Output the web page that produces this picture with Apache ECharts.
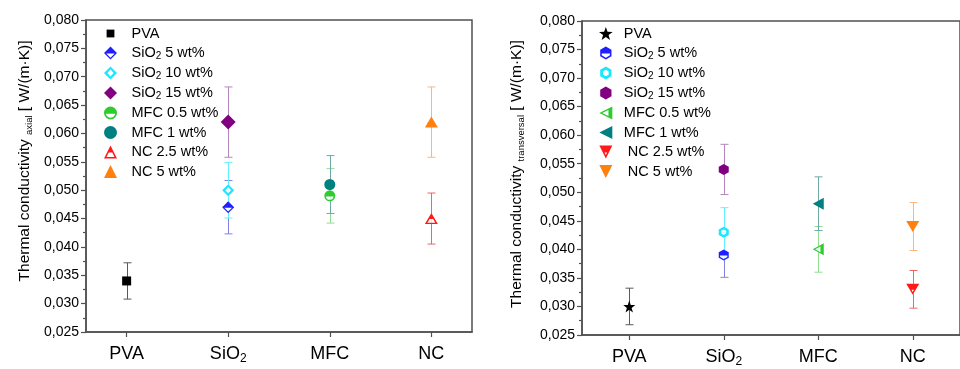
<!DOCTYPE html>
<html><head><meta charset="utf-8">
<script src="https://cdn.jsdelivr.net/npm/echarts@6/dist/echarts.min.js"></script>
<style>html,body{margin:0;padding:0;background:#fff}#c{width:960px;height:369px}</style>
</head><body><div id="c"></div>
<script>
// ---------------- data ----------------
const categories = ['PVA', 'SiO2', 'MFC', 'NC'];
const categoryPositions = [1, 2, 3, 4];
const seriesNames = ['PVA', 'SiO2 5 wt%', 'SiO2 10 wt%', 'SiO2 15 wt%', 'MFC 0.5 wt%', 'MFC 1 wt%', 'NC 2.5 wt%', 'NC 5 wt%'];
const seriesCategory = [1, 2, 2, 2, 3, 3, 4, 4];
const axialValues = [0.034, 0.047, 0.050, 0.062, 0.049, 0.051, 0.045, 0.062];
const axialErrors = [0.0032, 0.0047, 0.0049, 0.0062, 0.0048, 0.0051, 0.0045, 0.0062];
const transValues = [0.030, 0.039, 0.043, 0.054, 0.040, 0.048, 0.033, 0.044];
const transErrors = [0.0032, 0.0039, 0.0043, 0.0044, 0.0040, 0.0047, 0.0033, 0.0042];
const yTickLabels = ['0,025', '0,030', '0,035', '0,040', '0,045', '0,050', '0,055', '0,060', '0,065', '0,070', '0,075', '0,080'];

// ---------------- style ----------------
const FONT = 'Liberation Sans, Arial, Helvetica, sans-serif';
const colors = ['#000000', '#1f1fff', '#19e6ff', '#800080', '#2ecc2e', '#008080', '#ff1a1a', '#ff7f0f'];
const errColors = ['#5a5a5a', '#8282e0', '#66f0ff', '#b586bb', '#8fde8f', '#70a8a8', '#ee6666', '#ffb478'];
const leftShapes = ['square', 'diamondHalf', 'diamondHollow', 'diamond', 'circleHalf', 'circle', 'triUpHalf', 'triUp'];
const rightShapes = ['star', 'hexHalf', 'hexHollow', 'hex', 'triLeftHalf', 'triLeft', 'triDownHalf', 'triDown'];
const leftSizes = [[9, 9], [12, 12], [12, 12], [15, 15], [11, 11], [11, 11], [13, 11], [13, 11]];
const rightSizes = [[12, 12], [10, 11], [10, 11], [10, 11], [11, 12], [11, 12], [13, 11], [13, 11]];

const FULL = {
  square: 'M0 0 L100 0 L100 100 L0 100 Z',
  diamond: 'M50 0 L100 50 L50 100 L0 50 Z',
  circle: 'M0 50 A50 50 0 1 1 100 50 A50 50 0 1 1 0 50 Z',
  triUp: 'M50 0 L100 100 L0 100 Z',
  star: 'M50 0 L61.76 33.82 L97.55 34.55 L69.02 56.18 L79.39 90.45 L50 70 L20.61 90.45 L30.98 56.18 L2.45 34.55 L38.24 33.82 Z',
  hex: 'M50 0 L93.3 25 L93.3 75 L50 100 L6.7 75 L6.7 25 Z',
  triLeft: 'M0 50 L100 0 L100 100 Z',
  triDown: 'M0 0 L100 0 L50 100 Z'
};
const HOLES = {
  diamondHalf: ['diamond', 'M18 54 L50 86 L82 54 Z'],
  diamondHollow: ['diamond', 'M50 24 L26 50 L50 76 L74 50 Z'],
  circleHalf: ['circle', 'M14.5 56 A36 36 0 0 0 85.5 56 Z'],
  triUpHalf: ['triUp', 'M36.4 54 L19.4 88 L80.6 88 L63.6 54 Z'],
  hexHalf: ['hex', 'M18.7 54 L18.7 68 L50 86.1 L81.3 68 L81.3 54 Z'],
  hexHollow: ['hex', 'M50 25 L28.35 37.5 L28.35 62.5 L50 75 L71.65 62.5 L71.65 37.5 Z'],
  triLeftHalf: ['triLeft', 'M22.4 50 L70 73.8 L70 26.2 Z'],
  triDownHalf: ['triDown', 'M40.4 54 L50 73.2 L59.6 54 Z']
};
function shapePath(s) {
  if (HOLES[s]) return FULL[HOLES[s][0]] + ' ' + HOLES[s][1];
  return FULL[s];
}
function basePath(s) { return HOLES[s] ? FULL[HOLES[s][0]] : FULL[s]; }

function richLabel(name) {
  if (name.indexOf('SiO2') === 0) {
    const rest = name.slice(4);
    return '{t|SiO}{s|2}' + (rest ? '{t|' + rest + '}' : '');
  }
  return '{t|' + name + '}';
}

function legendFor(prefix, shapes, left, top, iw) {
  return {
    orient: 'vertical', left: left, top: top, padding: 0, itemWidth: iw, itemHeight: 13, itemGap: 4.5,
    selectedMode: false,
    data: seriesNames.map((n, i) => ({
      name: prefix + n,
      icon: 'path://' + (shapes[i] === 'square' ? 'M0 0 M100 100 M20 20 L80 20 L80 80 L20 80 Z' : shapePath(shapes[i]))
    })),
    formatter: function (name) {
      let n = name.slice(2);
      if (prefix === 'T:' && n.indexOf('NC') === 0) n = ' ' + n;
      return richLabel(n);
    },
    textStyle: {
      color: '#000', fontFamily: FONT, fontSize: 14.5, padding: [0, 0, 0, 2],
      rich: {
        t: { fontSize: 14.5, lineHeight: 16, fontFamily: FONT, color: '#000' },
        s: { fontSize: 10, lineHeight: 10, verticalAlign: 'bottom', fontFamily: FONT, color: '#000' }
      }
    }
  };
}

function makeX(grid, min, max) {
  return {
    type: 'value', gridIndex: grid, min: min, max: max,
    splitLine: { show: false },
    axisLine: { show: true, lineStyle: { color: '#505050', width: 1.5 } },
    axisTick: { show: true, customValues: categoryPositions, length: 5, lineStyle: { color: '#505050', width: 1.2 } },
    axisLabel: {
      customValues: categoryPositions, margin: 11, color: '#000', fontFamily: FONT, fontSize: 18,
      formatter: function (v) { return richLabel(categories[Math.round(v) - 1]); },
      rich: {
        t: { fontSize: 18, lineHeight: 22, fontFamily: FONT, color: '#000' },
        s: { fontSize: 12, lineHeight: 12, verticalAlign: 'bottom', fontFamily: FONT, color: '#000' }
      }
    }
  };
}
function makeY(grid, sub, gap, shift) {
  return {
    type: 'value', gridIndex: grid, min: 0.025, max: 0.08, interval: 0.005,
    splitLine: { show: false },
    axisLine: { show: true, lineStyle: { color: '#505050', width: 1.5 } },
    axisTick: { show: true, length: 5, lineStyle: { color: '#505050', width: 1.2 } },
    minorTick: { show: true, splitNumber: 2, length: 3, lineStyle: { color: '#505050', width: 1.2 } },
    axisLabel: {
      margin: 7, color: '#000', fontFamily: FONT, fontSize: 14,
      formatter: function (v) { return yTickLabels[Math.round((v - 0.025) / 0.005)]; }
    },
    name: '{t|Thermal conductivity }{s|' + sub + '}{t| [ W/(m·K)]}',
    nameLocation: 'middle', nameRotate: 90, nameGap: gap,
    nameTextStyle: {
      color: '#000', fontFamily: FONT, fontSize: 15.5, padding: [0, 0, 0, shift],
      rich: {
        t: { fontSize: 15.5, lineHeight: 18, fontFamily: FONT, color: '#000' },
        s: { fontSize: 9.5, lineHeight: 9, verticalAlign: 'bottom', fontFamily: FONT, color: '#000' }
      }
    }
  };
}

function seriesFor(prefix, grid, values, errors, shapes, sizes) {
  const out = [];
  out.push({
    type: 'custom', xAxisIndex: grid, yAxisIndex: grid, z: 1, silent: true,
    data: values.map((v, i) => [seriesCategory[i], v, errors[i], i]),
    encode: { x: 0, y: 1 },
    renderItem: function (params, api) {
      const x = api.value(0), v = api.value(1), e = api.value(2), idx = api.value(3);
      const top = api.coord([x, v + e]);
      const bot = api.coord([x, v - e]);
      const cx = Math.round(top[0]) + 0.5;
      const w = 4;
      const style = { stroke: errColors[idx], lineWidth: 1, fill: null };
      return {
        type: 'group', children: [
          { type: 'line', shape: { x1: cx, y1: top[1], x2: cx, y2: bot[1] }, style: style },
          { type: 'line', shape: { x1: cx - w, y1: top[1], x2: cx + w, y2: top[1] }, style: style },
          { type: 'line', shape: { x1: cx - w, y1: bot[1], x2: cx + w, y2: bot[1] }, style: style }
        ]
      };
    }
  });
  values.forEach((v, i) => {
    const s = shapes[i];
    if (HOLES[s]) {
      out.push({
        type: 'scatter', name: '', xAxisIndex: grid, yAxisIndex: grid, z: 2, silent: true,
        symbol: 'path://' + basePath(s), symbolSize: sizes[i],
        itemStyle: { color: '#ffffff' },
        data: [[seriesCategory[i], v]]
      });
    }
    out.push({
      type: 'scatter', name: prefix + seriesNames[i], xAxisIndex: grid, yAxisIndex: grid, z: 3,
      symbol: 'path://' + shapePath(s), symbolSize: sizes[i],
      itemStyle: { color: colors[i], opacity: 1 },
      data: [[seriesCategory[i], v]]
    });
  });
  return out;
}

const chart = echarts.init(document.getElementById('c'), null, { renderer: 'canvas' });
const option = {
  animation: false,
  backgroundColor: '#ffffff',
  textStyle: { fontFamily: FONT },
  grid: [
    { left: 86, top: 20, width: 386, height: 312, show: true, borderColor: '#505050', borderWidth: 1.5, backgroundColor: 'transparent' },
    { left: 582, top: 21, width: 389, height: 314, show: true, borderColor: '#505050', borderWidth: 1.5, backgroundColor: 'transparent' }
  ],
  xAxis: [makeX(0, 0.6, 4.4), makeX(1, 0.5, 4.5)],
  yAxis: [makeY(0, 'axial', 52, 30), makeY(1, 'transversal', 56, 8)],
  legend: [legendFor('A:', leftShapes, 104, 26, 28), legendFor('T:', rightShapes, 599, 26, 22)],
  series: seriesFor('A:', 0, axialValues, axialErrors, leftShapes, leftSizes)
    .concat(seriesFor('T:', 1, transValues, transErrors, rightShapes, rightSizes))
};
chart.setOption(option);
</script></body></html>
